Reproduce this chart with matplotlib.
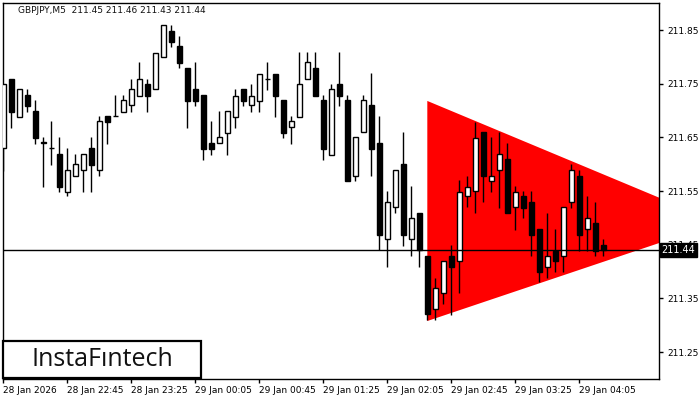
import numpy as np
import pandas as pd
import matplotlib
matplotlib.use("Agg")
import matplotlib.pyplot as plt
from matplotlib.patches import Polygon, Rectangle

# GBPJPY M5 candles
opens = [211.630, 211.759, 211.689, 211.729, 211.699, 211.641, 211.631, 211.619, 211.549, 211.579,
         211.589, 211.630, 211.589, 211.690, 211.690, 211.698, 211.710, 211.728, 211.749, 211.740,
         211.799, 211.849, 211.820, 211.779, 211.740, 211.729, 211.640, 211.639, 211.659, 211.689,
         211.740, 211.710, 211.718, 211.759, 211.769, 211.719, 211.669, 211.689, 211.758, 211.779,
         211.719, 211.618, 211.749, 211.719, 211.579, 211.660, 211.710, 211.640, 211.460, 211.520,
         211.600, 211.460, 211.510, 211.430, 211.330, 211.360, 211.430, 211.419, 211.540, 211.550,
         211.660, 211.569, 211.589, 211.609, 211.520, 211.540, 211.529, 211.479, 211.409, 211.439,
         211.430, 211.529, 211.579, 211.479, 211.490, 211.450]
highs = [211.749, 211.759, 211.740, 211.740, 211.720, 211.651, 211.681, 211.651, 211.630, 211.619,
         211.619, 211.651, 211.690, 211.690, 211.729, 211.729, 211.759, 211.790, 211.759, 211.808,
         211.859, 211.859, 211.839, 211.779, 211.790, 211.729, 211.681, 211.699, 211.699, 211.740,
         211.740, 211.749, 211.769, 211.790, 211.769, 211.719, 211.690, 211.809, 211.809, 211.809,
         211.729, 211.749, 211.809, 211.729, 211.650, 211.729, 211.770, 211.690, 211.550, 211.589,
         211.660, 211.560, 211.510, 211.430, 211.389, 211.419, 211.450, 211.571, 211.579, 211.679,
         211.660, 211.651, 211.661, 211.639, 211.560, 211.550, 211.550, 211.479, 211.510, 211.479,
         211.520, 211.600, 211.589, 211.541, 211.530, 211.460]
lows = [211.588, 211.668, 211.689, 211.698, 211.638, 211.558, 211.599, 211.549, 211.540, 211.579,
        211.549, 211.549, 211.579, 211.638, 211.690, 211.698, 211.698, 211.728, 211.698, 211.740,
        211.799, 211.818, 211.779, 211.668, 211.709, 211.608, 211.618, 211.639, 211.618, 211.668,
        211.709, 211.698, 211.698, 211.738, 211.689, 211.649, 211.638, 211.689, 211.758, 211.728,
        211.608, 211.618, 211.709, 211.569, 211.569, 211.660, 211.579, 211.440, 211.409, 211.510,
        211.448, 211.430, 211.409, 211.309, 211.309, 211.339, 211.319, 211.360, 211.520, 211.510,
        211.529, 211.549, 211.519, 211.510, 211.478, 211.499, 211.430, 211.380, 211.389, 211.400,
        211.400, 211.519, 211.439, 211.439, 211.430, 211.430]
closes = [211.749, 211.698, 211.740, 211.709, 211.649, 211.640, 211.630, 211.558, 211.589, 211.600,
          211.619, 211.599, 211.680, 211.679, 211.690, 211.719, 211.740, 211.758, 211.728, 211.808,
          211.859, 211.828, 211.789, 211.718, 211.718, 211.629, 211.629, 211.650, 211.699, 211.728,
          211.718, 211.728, 211.769, 211.759, 211.728, 211.659, 211.680, 211.749, 211.790, 211.728,
          211.629, 211.740, 211.728, 211.569, 211.650, 211.719, 211.629, 211.469, 211.529, 211.589,
          211.469, 211.499, 211.440, 211.321, 211.370, 211.419, 211.409, 211.549, 211.558, 211.649,
          211.579, 211.579, 211.619, 211.510, 211.549, 211.519, 211.469, 211.400, 211.430, 211.419,
          211.520, 211.589, 211.469, 211.499, 211.439, 211.440]

start_time = "2026-01-28 22:05"
last_price = 211.44

# symmetrical triangle pattern (bar index, price)
tri_x = [53, 53, 89.5]
tri_y = [211.718, 211.308, 211.491]

price_ticks = [211.25, 211.35, 211.45, 211.55, 211.65, 211.75, 211.85]

n = len(opens)
idx = np.arange(n)
times = pd.date_range(start_time, periods=n, freq="5min")
o = np.array(opens)
h = np.array(highs)
l = np.array(lows)
c = np.array(closes)

fig = plt.figure(figsize=(7, 4), dpi=100)
ax = fig.add_axes([2.7 / 700, 21 / 400, 656.3 / 700, 376.3 / 400])

ax.add_patch(Polygon(list(zip(tri_x, tri_y)), closed=True, facecolor="#ff0000",
                     edgecolor="none", zorder=1))

# candles
ax.vlines(idx, l, h, color="black", linewidth=1, zorder=2)
up = c >= o
body_lo = np.minimum(o, c)
body_h = np.abs(c - o)
ax.bar(idx[up], body_h[up], bottom=body_lo[up], width=0.55, facecolor="white",
       edgecolor="black", linewidth=1, zorder=3)
ax.bar(idx[~up], body_h[~up], bottom=body_lo[~up], width=0.55, facecolor="black",
       edgecolor="black", linewidth=1, zorder=3)

ax.axhline(last_price, color="black", linewidth=1, zorder=4)

ax.set_xlim(-0.075, 81.96)
ax.set_ylim(211.200, 211.901)

# x axis labels every 8 bars
xt = idx[::8]
xl = [times[0].strftime("%d %b %Y")] + [t.strftime("%d %b %H:%M") for t in times[8::8]]
ax.set_xticks(xt)
ax.set_xticklabels(xl, ha="left", fontsize=6.5)
ax.tick_params(axis="x", length=3, pad=2, width=1)

ax.yaxis.tick_right()
ax.set_yticks(price_ticks)
ax.set_yticklabels([f"{p:.2f}" for p in price_ticks], fontsize=6.5)
ax.tick_params(axis="y", length=3, pad=3, width=1)

for s in ax.spines.values():
    s.set_linewidth(1)

ax.text(0.024, 0.978, "GBPJPY,M5  211.45 211.46 211.43 211.44", transform=ax.transAxes,
        fontsize=6.5, va="center", ha="left", color="#111111")

# current price marker on the right scale (covers the 211.45 label like the original)
ax.annotate(f"{last_price:.2f}", xy=(1.004, last_price), xycoords=("axes fraction", "data"),
            ha="left", va="center", fontsize=7, color="white", zorder=10,
            bbox=dict(boxstyle="square,pad=0.2", fc="black", ec="black"),
            annotation_clip=False)

# logo box
fig.patches.append(Rectangle((3 / 700, 22 / 400), 198 / 700, 37 / 400, transform=fig.transFigure,
                             facecolor="white", edgecolor="black", linewidth=1.6, zorder=5))
fig.text(102 / 700, 1 - 360 / 400, "InstaF\u0131ntech", ha="center", va="center",
         fontsize=18, family="Open Sans", color="#111111", zorder=6)

fig.savefig("out.png", dpi=100)
